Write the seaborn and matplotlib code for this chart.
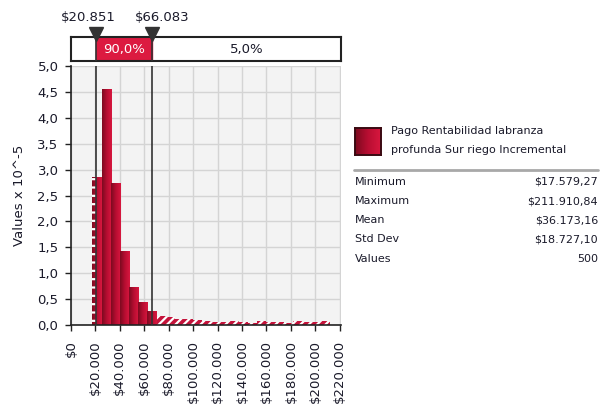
import numpy as np
import pandas as pd
import matplotlib
matplotlib.use("Agg")
import matplotlib.pyplot as plt
import seaborn as sns
from matplotlib.patches import Rectangle
from matplotlib.lines import Line2D
from matplotlib.colors import LinearSegmentedColormap

# histogram heights (Values x 10^-5), one per bin from min to max
density = [2.85, 4.55, 2.75, 1.43, 0.74, 0.44, 0.27,
           0.18, 0.15, 0.12, 0.11, 0.09, 0.08, 0.06, 0.05, 0.07,
           0.05, 0.04, 0.07, 0.05, 0.05, 0.04, 0.07, 0.05, 0.05, 0.07]

stat_min = 17579.27
stat_max = 211910.84
left_mark = 20851
right_mark = 66083
band_labels = ["90,0%", "5,0%"]

xticks = [0, 20000, 40000, 60000, 80000, 100000, 120000, 140000,
          160000, 180000, 200000, 220000]
yticks = [0.0, 0.5, 1.0, 1.5, 2.0, 2.5, 3.0, 3.5, 4.0, 4.5, 5.0]

series_name = ["Pago Rentabilidad labranza", "profunda Sur riego Incremental"]
stat_names = ["Minimum", "Maximum", "Mean", "Std Dev", "Values"]
stat_values = ["$17.579,27", "$211.910,84", "$36.173,16", "$18.727,10", "500"]

W, H = 604, 409
BAR = "#c4123a"
BAND_RED = "#dc1a40"
TXT = "#1a1a2a"
bar_cmap = LinearSegmentedColormap.from_list("bar", ["#7c0a1f", "#b80e32", "#d8173f"])
grad = np.linspace(0, 1, 64).reshape(1, -1)

def fx(px):
    return px / W

def fy(py):
    return 1 - py / H

def money(v):
    return "$" + f"{int(v):,}".replace(",", ".")

sns.set_style("white")
plt.rcParams["font.family"] = ["DejaVu Sans"]
plt.rcParams["hatch.linewidth"] = 1.6

fig = plt.figure(figsize=(W / 100, H / 100), dpi=100)
ax = fig.add_axes([fx(71), fy(325), fx(341) - fx(71), fy(66) - fy(325)])
ax.set_facecolor("#f3f3f3")

edges = np.linspace(stat_min, stat_max, len(density) + 1)
hist_df = pd.DataFrame({"value": (edges[:-1] + edges[1:]) / 2, "density": density})
sns.histplot(data=hist_df, x="value", weights="density", bins=len(density),
             binrange=(stat_min, stat_max), ax=ax,
             color=BAR, alpha=1, edgecolor="#a50d30", linewidth=0.4)

bars = list(ax.patches)
for p in bars:
    x0, w, h = p.get_x(), p.get_width(), p.get_height()
    if x0 >= right_mark - 1000:
        # outside the right delimiter: hatched
        p.set_hatch("////")
        p.set_edgecolor("white")
        p.set_linewidth(0)
        continue
    im = ax.imshow(grad, extent=[x0, x0 + w, 0, h], aspect="auto", cmap=bar_cmap,
                   interpolation="bicubic", zorder=p.get_zorder() + 0.1)
    im.set_clip_path(p)
    if x0 < left_mark < x0 + w:
        # part of the bar left of the left delimiter gets the hatch
        ax.add_patch(Rectangle((x0, 0), left_mark - x0, h, facecolor="none",
                               edgecolor="white", hatch="--", linewidth=0,
                               zorder=p.get_zorder() + 0.2))

ax.set_xlim(0, 221000)
ax.set_ylim(0, 5.0)
ax.set_aspect("auto")
ax.set_xticks(xticks)
ax.set_xticklabels([money(v) for v in xticks], rotation=90, fontsize=9.5, color=TXT)
ax.set_yticks(yticks)
ax.set_yticklabels([f"{v:.1f}".replace(".", ",") for v in yticks], fontsize=9.5, color=TXT)
ax.grid(True, color="#d4d4d4", linewidth=1)
ax.set_axisbelow(True)
ax.tick_params(axis="both", direction="out", length=4, width=1, color="#222", pad=5, bottom=True, left=True)
ax.tick_params(axis="x", pad=7)
for s in ["top", "right"]:
    ax.spines[s].set_visible(False)
for s in ["left", "bottom"]:
    ax.spines[s].set_color("#222")
    ax.spines[s].set_linewidth(1.2)
ax.set_xlabel("")
ax.set_ylabel("Values x 10^-5", fontsize=9.5, color=TXT, labelpad=8)

for m in [left_mark, right_mark]:
    ax.axvline(m, color="#333", linewidth=1.2, zorder=5)

# delimiter band above the plot
bx = fig.add_axes([fx(71), fy(61), fx(341) - fx(71), fy(37) - fy(61)])
bx.set_xlim(ax.get_xlim())
bx.set_ylim(0, 1)
bx.set_xticks([])
bx.set_yticks([])
bx.set_facecolor("white")
for s in bx.spines.values():
    s.set_linewidth(1.5)
    s.set_color("#222")
bx.axvspan(left_mark, right_mark, color=BAND_RED, zorder=1)
for m, dx in zip([left_mark, right_mark], [-8, 10]):
    bx.axvline(m, color="#333", linewidth=1.2, zorder=3)
    bx.plot([m], [1.12], marker="v", markersize=10, color="#333", clip_on=False, zorder=4)
    bx.annotate(money(m), xy=(m, 1.0), xytext=(dx * 0.72, 14), textcoords="offset points",
                ha="center", va="center", fontsize=9.5, color=TXT, annotation_clip=False)
bx.text((left_mark + right_mark) / 2, 0.5, band_labels[0], ha="center", va="center",
        fontsize=9.5, color="white")
bx.text((right_mark + 221000) / 2, 0.5, band_labels[1], ha="center", va="center",
        fontsize=9.5, color=TXT)

# legend / statistics panel
lax = fig.add_axes([fx(355), fy(155), fx(26), 27 / H])
lax.imshow(grad, aspect="auto", cmap=bar_cmap, interpolation="bicubic")
lax.set_xticks([])
lax.set_yticks([])
for s in lax.spines.values():
    s.set_color("#3a0a12")
    s.set_linewidth(1.4)
fig.text(fx(391), fy(131), series_name[0], fontsize=8, color=TXT, va="center")
fig.text(fx(391), fy(150), series_name[1], fontsize=8, color=TXT, va="center")
fig.lines.append(Line2D([fx(354), fx(598)], [fy(170), fy(170)], transform=fig.transFigure,
                        color="#a8a8a8", linewidth=2))
row_y = [182, 201, 220, 239, 259]
for name, val, y in zip(stat_names, stat_values, row_y):
    fig.text(fx(355), fy(y), name, fontsize=8, color=TXT, va="center")
    fig.text(fx(598), fy(y), val, fontsize=8, color=TXT, va="center", ha="right")

fig.savefig("out.png", dpi=100)
